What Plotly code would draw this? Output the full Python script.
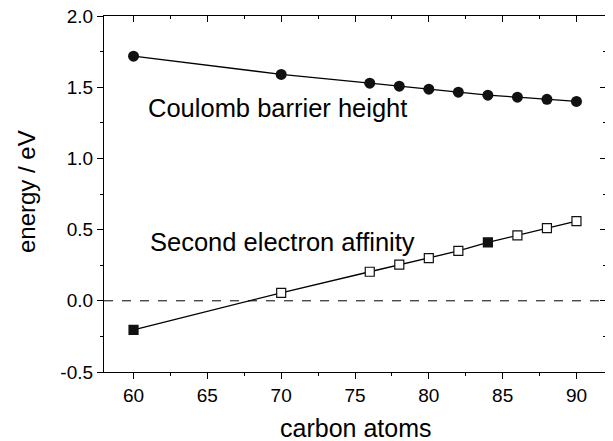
import plotly.graph_objects as go

carbon = [60, 70, 76, 78, 80, 82, 84, 86, 88, 90]
coulomb = [1.718, 1.59, 1.528, 1.507, 1.486, 1.465, 1.444, 1.43, 1.415, 1.40]
affinity = [-0.204, 0.056, 0.204, 0.254, 0.30, 0.35, 0.41, 0.46, 0.51, 0.56]
affinity_filled = [True, False, False, False, False, False, True, False, False, False]
x_ticks = [60, 65, 70, 75, 80, 85, 90]
y_ticks = [-0.5, 0.0, 0.5, 1.0, 1.5, 2.0]
y_ticktext = ["-0.5", "0.0", "0.5", "1.0", "1.5", "2.0"]

FONT = "Liberation Sans, Arial, sans-serif"

fig = go.Figure()
fig.add_trace(go.Scatter(
    x=carbon, y=coulomb, mode="lines+markers",
    line=dict(color="black", width=1.3),
    marker=dict(symbol="circle", size=11, color="#111111"),
    showlegend=False))
# second series drawn on the mirror (top/right) axes, which share the same ranges
fig.add_trace(go.Scatter(
    x=carbon, y=affinity, xaxis="x2", yaxis="y2", mode="lines+markers",
    line=dict(color="black", width=1.3),
    marker=dict(symbol="square", size=9,
                color=["#111111" if f else "white" for f in affinity_filled],
                line=dict(color="#111111", width=1.2)),
    showlegend=False))

fig.add_shape(type="line", xref="paper", yref="y", x0=0, x1=1, y0=0, y1=0,
              line=dict(color="black", width=1, dash="dash"), layer="below")

fig.add_annotation(x=60.85, y=1.355, xref="x", yref="y", text="Coulomb barrier height",
                   showarrow=False, xanchor="left", yanchor="middle",
                   font=dict(family=FONT, size=25.5, color="black"))
fig.add_annotation(x=60.95, y=0.41, xref="x", yref="y", text="Second electron affinity",
                   showarrow=False, xanchor="left", yanchor="middle",
                   font=dict(family=FONT, size=25.5, color="black"))
# axis titles
fig.add_annotation(x=0.5, y=-0.157, xref="paper", yref="paper", text="carbon atoms",
                   showarrow=False, xanchor="center", yanchor="middle",
                   font=dict(family=FONT, size=25, color="black"))
fig.add_annotation(x=-0.153, y=0.506, xref="paper", yref="paper", text="energy / eV",
                   showarrow=False, textangle=-90, xanchor="center", yanchor="middle",
                   font=dict(family=FONT, size=24, color="black"))

x_minor = [57.5 + 2.5 * i for i in range(15)]
y_minor = [-0.25, 0.25, 0.75, 1.25, 1.75]
fig.update_layout(
    width=605, height=433,
    margin=dict(l=96, r=7, t=8, b=69),
    paper_bgcolor="white", plot_bgcolor="white",
    font=dict(family=FONT, size=19, color="black"),
    xaxis=dict(range=[58, 92], tickvals=x_ticks, showgrid=False, zeroline=False,
               ticks="outside", ticklen=6, tickwidth=1, tickcolor="black",
               showline=True, linecolor="black", linewidth=1.2,
               minor=dict(tickvals=x_minor, ticks="outside", ticklen=3, tickcolor="black")),
    yaxis=dict(range=[-0.5, 2.0], tickvals=y_ticks, ticktext=y_ticktext,
               showgrid=False, zeroline=False, ticklabeloverflow="allow", automargin=False,
               ticks="outside", ticklen=6, tickwidth=1, tickcolor="black",
               showline=True, linecolor="black", linewidth=1.2,
               minor=dict(tickvals=y_minor, ticks="outside", ticklen=3, tickcolor="black")),
    xaxis2=dict(range=[58, 92], overlaying="x", side="top", anchor="y2",
                tickvals=x_ticks, showticklabels=False, showgrid=False, zeroline=False,
                ticks="inside", ticklen=6, tickwidth=1, tickcolor="black",
                showline=True, linecolor="black", linewidth=1.2,
                minor=dict(tickvals=x_minor, ticks="inside", ticklen=3, tickcolor="black")),
    yaxis2=dict(range=[-0.5, 2.0], overlaying="y", side="right", anchor="x2",
                tickvals=y_ticks, showticklabels=False, showgrid=False, zeroline=False,
                ticks="inside", ticklen=6, tickwidth=1, tickcolor="black",
                showline=True, linecolor="black", linewidth=1.2,
                minor=dict(tickvals=y_minor, ticks="inside", ticklen=3, tickcolor="black")),
)

fig.write_html("out.html")
